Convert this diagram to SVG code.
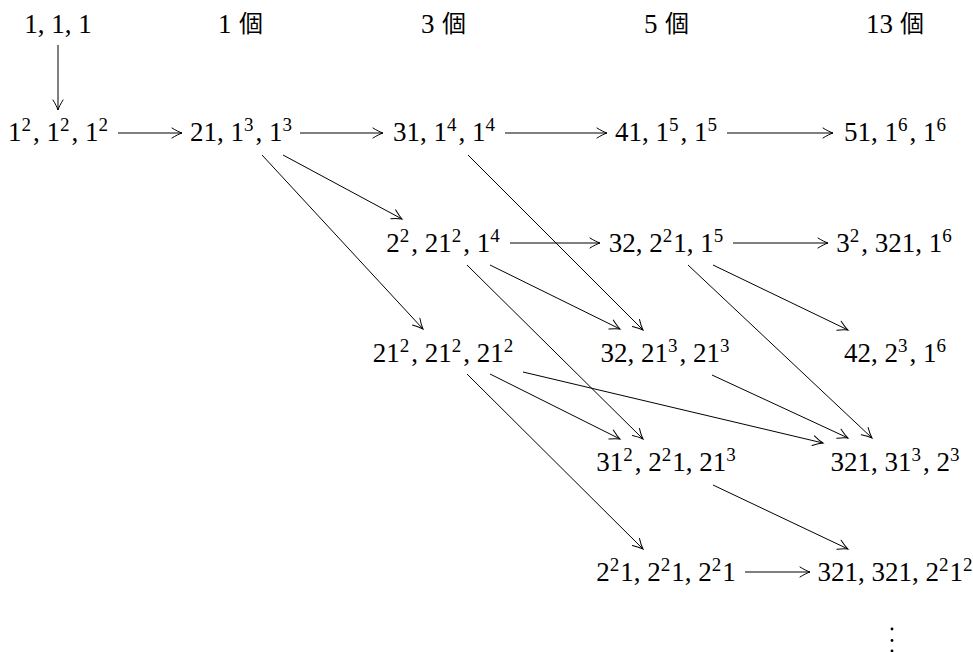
<svg xmlns="http://www.w3.org/2000/svg" width="973" height="652" viewBox="0 0 973 652">
<style>
.m{font-family:'Liberation Serif','DejaVu Serif',serif;font-size:27px;fill:#000;text-anchor:middle}
.h{font-family:'Liberation Serif','DejaVu Serif',serif;font-size:27px;fill:#000}
.k{font-family:'Noto Sans CJK JP','Noto Sans CJK SC',sans-serif;font-size:24px;fill:#000}
.s{font-size:19px}
.c line{stroke:#000;stroke-width:1;fill:none;marker-end:url(#ah)}
</style>
<defs>
<marker id="ah" viewBox="-11 -7 13 14" refX="0" refY="0" markerWidth="13" markerHeight="14" markerUnits="userSpaceOnUse" orient="auto">
<path d="M -10 -5 C -6 -2.5, -2.5 -0.8, 0 0 C -2.5 0.8, -6 2.5, -10 5" fill="none" stroke="#000" stroke-width="1" stroke-linecap="round"/>
</marker>
</defs>
<g id="header">
<g id="n0"><text class="m" x="58" y="33">1, 1, 1</text></g>
<g id="h1"><text class="h" x="218" y="33">1</text><text class="k" x="239" y="32">個</text></g>
<g id="h3"><text class="h" x="421" y="33">3</text><text class="k" x="442" y="32">個</text></g>
<g id="h5"><text class="h" x="644" y="33">5</text><text class="k" x="665" y="32">個</text></g>
<g id="h13"><text class="h" x="866" y="33">13</text><text class="k" x="900" y="32">個</text></g>
</g>
<g class="c" id="connectors">
<line x1="58" y1="45" x2="58" y2="110"/>
<line x1="118" y1="133" x2="182" y2="133"/>
<line x1="300" y1="133" x2="383" y2="133"/>
<line x1="505" y1="133" x2="607" y2="133"/>
<line x1="727" y1="133" x2="833" y2="133"/>
<line x1="510" y1="243" x2="600" y2="243"/>
<line x1="733" y1="243" x2="828" y2="243"/>
<line x1="745" y1="572" x2="810" y2="572"/>
<line x1="283" y1="155" x2="402" y2="219"/>
<line x1="262" y1="155" x2="423" y2="329"/>
<line x1="468" y1="155" x2="643" y2="330"/>
<line x1="490" y1="265" x2="620" y2="329"/>
<line x1="467" y1="265" x2="643" y2="439"/>
<line x1="713" y1="265" x2="848" y2="330"/>
<line x1="688" y1="265" x2="872" y2="438"/>
<line x1="490" y1="374" x2="620" y2="439"/>
<line x1="523" y1="372" x2="823" y2="443"/>
<line x1="467" y1="374" x2="643" y2="549"/>
<line x1="712" y1="375" x2="848" y2="438"/>
<line x1="713" y1="485" x2="848" y2="549"/>
</g>
<g id="n11"><text class="m" x="58" y="141">1<tspan class="s" dy="-10">2</tspan><tspan dy="10" dx="2">, 1</tspan><tspan class="s" dy="-10">2</tspan><tspan dy="10" dx="2">, 1</tspan><tspan class="s" dy="-10">2</tspan></text></g>
<g id="n12"><text class="m" x="241" y="141">21, 1<tspan class="s" dy="-10">3</tspan><tspan dy="10" dx="2">, 1</tspan><tspan class="s" dy="-10">3</tspan></text></g>
<g id="n13"><text class="m" x="444" y="141">31, 1<tspan class="s" dy="-10">4</tspan><tspan dy="10" dx="2">, 1</tspan><tspan class="s" dy="-10">4</tspan></text></g>
<g id="n14"><text class="m" x="666" y="141">41, 1<tspan class="s" dy="-10">5</tspan><tspan dy="10" dx="2">, 1</tspan><tspan class="s" dy="-10">5</tspan></text></g>
<g id="n15"><text class="m" x="895" y="141">51, 1<tspan class="s" dy="-10">6</tspan><tspan dy="10" dx="2">, 1</tspan><tspan class="s" dy="-10">6</tspan></text></g>
<g id="n22"><text class="m" x="443" y="252">2<tspan class="s" dy="-10">2</tspan><tspan dy="10" dx="2">, 21</tspan><tspan class="s" dy="-10">2</tspan><tspan dy="10" dx="2">, 1</tspan><tspan class="s" dy="-10">4</tspan></text></g>
<g id="n23"><text class="m" x="666" y="252">32, 2<tspan class="s" dy="-10">2</tspan><tspan dy="10" dx="1">1, 1</tspan><tspan class="s" dy="-10">5</tspan></text></g>
<g id="n24"><text class="m" x="894" y="252">3<tspan class="s" dy="-10">2</tspan><tspan dy="10" dx="2">, 321, 1</tspan><tspan class="s" dy="-10">6</tspan></text></g>
<g id="n31"><text class="m" x="443" y="362">21<tspan class="s" dy="-10">2</tspan><tspan dy="10" dx="2">, 21</tspan><tspan class="s" dy="-10">2</tspan><tspan dy="10" dx="2">, 21</tspan><tspan class="s" dy="-10">2</tspan></text></g>
<g id="n32"><text class="m" x="665" y="362">32, 21<tspan class="s" dy="-10">3</tspan><tspan dy="10" dx="2">, 21</tspan><tspan class="s" dy="-10">3</tspan></text></g>
<g id="n33"><text class="m" x="895" y="362">42, 2<tspan class="s" dy="-10">3</tspan><tspan dy="10" dx="2">, 1</tspan><tspan class="s" dy="-10">6</tspan></text></g>
<g id="n41"><text class="m" x="666" y="471">31<tspan class="s" dy="-10">2</tspan><tspan dy="10" dx="2">, 2</tspan><tspan class="s" dy="-10">2</tspan><tspan dy="10" dx="1">1, 21</tspan><tspan class="s" dy="-10">3</tspan></text></g>
<g id="n42"><text class="m" x="895" y="471">321, 31<tspan class="s" dy="-10">3</tspan><tspan dy="10" dx="2">, 2</tspan><tspan class="s" dy="-10">3</tspan></text></g>
<g id="n51"><text class="m" x="666" y="581">2<tspan class="s" dy="-10">2</tspan><tspan dy="10" dx="1">1, 2</tspan><tspan class="s" dy="-10">2</tspan><tspan dy="10" dx="1">1, 2</tspan><tspan class="s" dy="-10">2</tspan><tspan dy="10" dx="1">1</tspan></text></g>
<g id="n52"><text class="m" x="895" y="581">321, 321, 2<tspan class="s" dy="-10">2</tspan><tspan dy="10" dx="1">1</tspan><tspan class="s" dy="-10">2</tspan></text></g>
<g id="vdots"><circle cx="892" cy="629" r="1.4"/><circle cx="892" cy="640.5" r="1.4"/><circle cx="892" cy="651" r="1.4"/></g>
</svg>
